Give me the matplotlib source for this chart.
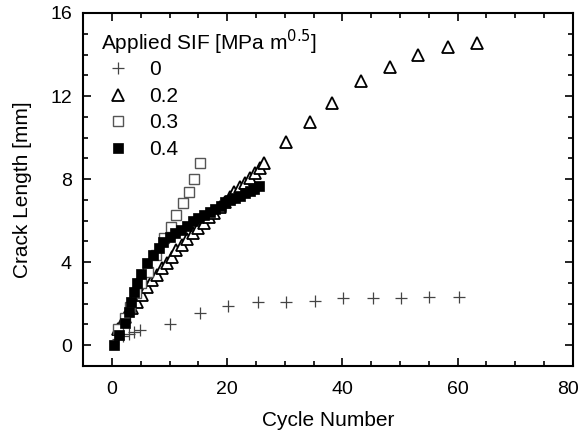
import numpy as np
import matplotlib
matplotlib.use("Agg")
import matplotlib.pyplot as plt
import matplotlib.transforms as mtransforms
from matplotlib.ticker import MultipleLocator

plt.rcParams['font.family'] = ['Liberation Sans', 'DejaVu Sans']

# SIF = 0
x_0 = [1.0, 2.0, 2.9, 3.9, 4.8, 10.1, 15.3, 20.2, 25.4, 30.3, 35.2, 40.1, 45.3, 50.2, 55.1, 60.3]
y_0 = [0.30, 0.42, 0.55, 0.64, 0.72, 1.02, 1.53, 1.88, 2.09, 2.10, 2.12, 2.25, 2.25, 2.28, 2.33, 2.30]

# SIF = 0.2
x_02 = [1.0, 2.3, 3.5, 4.3, 5.2, 6.1, 6.9, 7.8, 8.7, 9.5, 10.4, 11.2, 12.1, 13.1, 14.0,
        14.9, 15.9, 16.9, 17.8, 18.7, 19.6, 20.5, 21.2, 22.2, 23.1, 23.9, 24.8, 25.7, 26.4,
        30.3, 34.3, 38.2, 43.3, 48.3, 53.2, 58.3, 63.3]
y_02 = [0.80, 1.37, 1.77, 2.09, 2.41, 2.81, 3.13, 3.37, 3.70, 3.94, 4.26, 4.58, 4.82, 5.09, 5.38,
        5.62, 5.86, 6.18, 6.38, 6.67, 6.91, 7.15, 7.39, 7.63, 7.82, 8.03, 8.27, 8.51, 8.75,
        9.80, 10.76, 11.64, 12.72, 13.41, 13.98, 14.35, 14.57]

# SIF = 0.3
x_03 = [1.0, 2.2, 3.2, 4.1, 5.1, 6.3, 7.6, 9.0, 10.2, 11.2, 12.3, 13.3, 14.2, 15.3]
y_03 = [0.80, 1.30, 1.85, 2.50, 2.97, 3.50, 4.34, 5.17, 5.70, 6.27, 6.83, 7.39, 7.98, 8.75]

# SIF = 0.4
x_04 = [0.3, 1.3, 2.2, 2.9, 3.3, 3.9, 4.3, 5.1, 6.1, 7.2, 8.1, 8.9, 10.1, 11.0, 12.0, 13.0,
        14.0, 15.0, 16.0, 17.0, 17.9, 18.9, 19.7, 20.5, 21.3, 22.2, 23.1, 23.9, 24.7, 25.5]
y_04 = [0.00, 0.48, 1.07, 1.60, 2.09, 2.57, 2.97, 3.45, 3.94, 4.34, 4.66, 4.95, 5.19, 5.38, 5.54, 5.75,
        5.98, 6.10, 6.27, 6.39, 6.54, 6.70, 6.89, 6.99, 7.10, 7.18, 7.31, 7.44, 7.53, 7.68]

labels = ["0", "0.2", "0.3", "0.4"]

fig = plt.figure(figsize=(5.81, 4.33), dpi=100)
ax = fig.add_axes([0.143, 0.155, 0.843, 0.815])

ax.plot(x_0, y_0, ls='none', marker='+', ms=8, mew=0.9, color='#444444', label=labels[0])
ax.plot(x_02, y_02, ls='none', marker='^', ms=8, mew=1.3, mfc='white', mec='black', label=labels[1])
ax.plot(x_03, y_03, ls='none', marker='s', ms=7.5, mew=1.0, mfc='white', mec='#555555', label=labels[2])
ax.plot(x_04, y_04, ls='none', marker='s', ms=7.5, mew=0.5, mfc='black', mec='black', label=labels[3])

ax.set_xlim(-5, 80)
ax.set_ylim(-1, 16)
ax.xaxis.set_major_locator(MultipleLocator(20))
ax.xaxis.set_minor_locator(MultipleLocator(5))
ax.yaxis.set_major_locator(MultipleLocator(4))
ax.yaxis.set_minor_locator(MultipleLocator(1))
ax.tick_params(which='both', direction='in', top=True, right=True, labelsize=14, width=1.2)
ax.tick_params(axis='x', which='major', length=6, pad=11)
ax.tick_params(axis='y', which='major', length=6, pad=8)
ax.tick_params(which='minor', length=3.5)
for s in ax.spines.values():
    s.set_linewidth(1.5)

ax.set_xlabel('Cycle Number', fontsize=15, labelpad=9)
ax.set_ylabel('Crack Length [mm]', fontsize=15, labelpad=13)

# nudge the "80" tick label left so it stays inside the figure
fig.canvas.draw()
for lab in ax.get_xticklabels():
    if lab.get_text() == '80':
        lab.set_transform(lab.get_transform() + mtransforms.ScaledTranslation(-5 / 100, 0, fig.dpi_scale_trans))

ax.text(0.037, 0.918, 'Applied SIF [MPa m$^{0.5}$]', transform=ax.transAxes,
        fontsize=15, ha='left', va='center')
ax.legend(loc='upper left', bbox_to_anchor=(0.021, 0.889), frameon=False, fontsize=15,
          handletextpad=0.7, labelspacing=0.36, handlelength=1.6, borderaxespad=0.0)

fig.savefig('out.png', dpi=100)
